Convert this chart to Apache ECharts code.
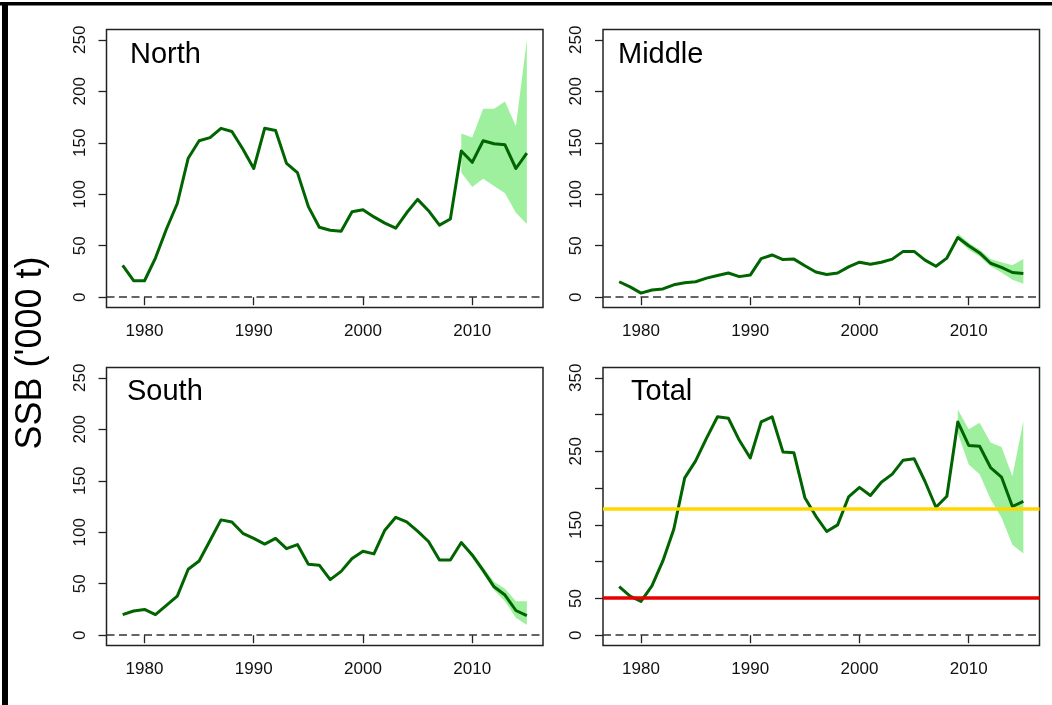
<!DOCTYPE html>
<html>
<head>
<meta charset="utf-8">
<script src="https://cdn.jsdelivr.net/npm/echarts@6/dist/echarts.min.js"></script>
<style>
  html, body { margin: 0; padding: 0; background: #fff; }
  #chart { width: 1052px; height: 705px; }
</style>
</head>
<body>
<div id="chart"></div>
<script>
// Spawning stock biomass ('000 t) by stock component, 1978-2015
const years = [1978, 1979, 1980, 1981, 1982, 1983, 1984, 1985, 1986, 1987,
               1988, 1989, 1990, 1991, 1992, 1993, 1994, 1995, 1996, 1997,
               1998, 1999, 2000, 2001, 2002, 2003, 2004, 2005, 2006, 2007,
               2008, 2009, 2010, 2011, 2012, 2013, 2014, 2015];

const north = [31, 16, 16, 38, 66, 91, 135, 152, 155, 164,
               161, 144, 125, 164, 162, 130, 121, 88, 68, 65,
               64, 83, 85, 78, 72, 67, 82, 95, 84, 70,
               76, 142, 131, 152, 149, 148, 125, 140];

const middle = [15, 10, 4, 7, 8, 12, 14, 15, 18.5, 21,
                23.5, 20, 21.5, 37.5, 41, 36.5, 37, 30.5, 24.5, 22,
                23.5, 29.5, 34, 32, 34, 37, 44.5, 44.5, 36, 30,
                38, 58, 50, 43, 33, 29, 24, 23];

const south = [20, 23.5, 25, 20, 29, 38, 64, 72, 92, 112,
               110, 99, 94, 88.5, 94, 84, 88, 69, 68, 54,
               62, 74.5, 81.5, 79, 102, 114.5, 110, 101, 91, 73,
               73, 90, 78, 63, 47, 39, 24, 19];

const total = [66, 53, 46, 67, 101, 144, 214, 237, 268, 297,
               295, 265, 241, 290, 297, 249, 248, 187, 162, 141,
               150, 188, 201, 190, 208, 219, 238, 240, 209, 174,
               189, 290, 258, 257, 228, 215, 175, 182];

// Confidence band for the most recent assessment years
const bandYears = [2009, 2010, 2011, 2012, 2013, 2014, 2015];
const northUpper  = [159, 155, 183, 183, 190, 166, 250];
const northLower  = [121, 107, 115, 108, 101, 82, 71];
const middleUpper = [62, 53, 46, 37, 34, 31, 37];
const middleLower = [56, 46, 39.5, 30, 24, 17, 13];
const southUpper  = [91, 80, 66, 52, 45, 33, 33];
const southLower  = [89, 75, 60, 44, 33, 17, 10];
const totalUpper  = [307, 280, 289, 262, 256, 216, 291];
const totalLower  = [275, 232, 219, 185, 160, 123, 111];

// Reference points for the total stock
const bpa = 172;
const blim = 51;

// Axis ticks and labels
const xTicks = [1980, 1990, 2000, 2010];
const yTicksRegion = [0, 50, 100, 150, 200, 250];
const yTicksTotal = [0, 50, 100, 150, 200, 250, 300, 350];
const yLabelsTotal = [0, 50, 150, 250, 350];

const panelNames = ['North', 'Middle', 'South', 'Total'];

const FONT = '"Liberation Sans", Arial, Helvetica, sans-serif';
const LINE_GREEN = '#006400';
const BAND_GREEN = '#9ef09e';
const INK = '#222';

const grids = [
  { left: 106.5, top: 29.5, width: 436.5, height: 278 },
  { left: 603,   top: 29.5, width: 436.5, height: 278 },
  { left: 106.5, top: 367.5, width: 436.5, height: 278 },
  { left: 603,   top: 367.5, width: 436.5, height: 278 }
].map(g => Object.assign({ show: true, borderColor: INK, borderWidth: 1.5, backgroundColor: 'transparent' }, g));

function plain(v) { return String(v); }

function xAxis(i) {
  return {
    type: 'value', gridIndex: i, min: 1976.52, max: 2016.48,
    axisLine: { show: false }, splitLine: { show: false },
    axisTick: { show: true, inside: false, length: 8, customValues: xTicks,
                lineStyle: { color: INK, width: 1.3 } },
    axisLabel: { show: true, customValues: xTicks, formatter: plain, margin: 15, fontSize: 17,
                 color: '#111', fontFamily: FONT }
  };
}

function yAxis(i, min, max, ticks, labels) {
  return {
    type: 'value', gridIndex: i, min: min, max: max,
    axisLine: { show: false }, splitLine: { show: false },
    axisTick: { show: true, inside: false, length: 8, customValues: ticks,
                lineStyle: { color: INK, width: 1.3 } },
    axisLabel: { show: true, customValues: labels, formatter: plain, rotate: 90, margin: 18, fontSize: 17,
                 color: '#111', fontFamily: FONT }
  };
}

function pairs(xs, ys) { return xs.map((x, k) => [x, ys[k]]); }

// Shaded interval: one polygon through the upper values and back along the lower ones
function bandSeries(i, upper, lower) {
  return {
    type: 'custom', xAxisIndex: i, yAxisIndex: i, z: 1, silent: true, clip: true,
    encode: { x: 0, y: [1, 2] },
    data: bandYears.map((y, k) => [y, lower[k], upper[k]]),
    renderItem: function (params, api) {
      if (params.dataIndex !== 0) return null;
      const pts = [];
      bandYears.forEach((y, k) => pts.push(api.coord([y, upper[k]])));
      for (let k = bandYears.length - 1; k >= 0; k--) pts.push(api.coord([bandYears[k], lower[k]]));
      return { type: 'polygon', shape: { points: pts }, style: { fill: BAND_GREEN } };
    }
  };
}

function panelSeries(i, values, upper, lower, refLines) {
  const markData = [{ yAxis: 0, lineStyle: { color: '#333', width: 1.5, type: [8, 4.5] } }];
  (refLines || []).forEach(r => markData.push({ yAxis: r.value, lineStyle: { color: r.color, width: 3.5, type: 'solid' } }));
  return [
    bandSeries(i, upper, lower),
    {
      type: 'line', xAxisIndex: i, yAxisIndex: i, z: 3,
      data: pairs(years, values), symbol: 'none',
      lineStyle: { color: LINE_GREEN, width: 3, join: 'round' },
      markLine: { silent: true, symbol: ['none', 'none'], label: { show: false }, data: markData }
    }
  ];
}

const titlePos = [[130, 54.5], [618, 54.5], [127, 392], [631, 392]];

const chart = echarts.init(document.getElementById('chart'), null, { renderer: 'canvas' });
chart.setOption({
  animation: false,
  backgroundColor: '#fff',
  grid: grids,
  xAxis: [xAxis(0), xAxis(1), xAxis(2), xAxis(3)],
  yAxis: [
    yAxis(0, -10, 260, yTicksRegion, yTicksRegion),
    yAxis(1, -10, 260, yTicksRegion, yTicksRegion),
    yAxis(2, -10, 260, yTicksRegion, yTicksRegion),
    yAxis(3, -14, 364, yTicksTotal, yLabelsTotal)
  ],
  series: [].concat(
    panelSeries(0, north, northUpper, northLower),
    panelSeries(1, middle, middleUpper, middleLower),
    panelSeries(2, south, southUpper, southLower),
    panelSeries(3, total, totalUpper, totalLower, [
      { value: bpa, color: '#ffd700' },
      { value: blim, color: '#e80000' }
    ])
  ),
  graphic: [
    { type: 'rect', shape: { x: 0, y: 2, width: 1052, height: 3.5 }, style: { fill: '#000' }, silent: true },
    { type: 'rect', shape: { x: 2, y: 2, width: 6, height: 703 }, style: { fill: '#000' }, silent: true },
    {
      type: 'text', x: 31, y: 353, rotation: Math.PI / 2, silent: true,
      style: { text: "SSB ('000 t)", fontSize: 36, fontFamily: FONT, fill: '#000',
               align: 'center', verticalAlign: 'middle' }
    }
  ].concat(panelNames.map((name, k) => ({
    type: 'text', x: titlePos[k][0], y: titlePos[k][1], silent: true,
    style: { text: name, fontSize: 29, fontFamily: FONT, fill: '#000',
             align: 'left', verticalAlign: 'middle' }
  })))
});
</script>
</body>
</html>
